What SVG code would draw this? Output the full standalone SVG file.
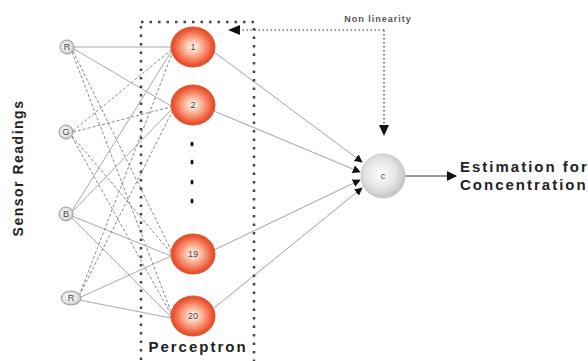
<svg xmlns="http://www.w3.org/2000/svg" width="588" height="361" viewBox="0 0 588 361">
<defs>
<radialGradient id="red" cx="50%" cy="50%" r="55%">
<stop offset="0" stop-color="#ffffff"/>
<stop offset="0.35" stop-color="#fbb89c"/>
<stop offset="0.8" stop-color="#ee5533"/>
<stop offset="1" stop-color="#d8401e"/>
</radialGradient>
<radialGradient id="gray" cx="45%" cy="45%" r="60%">
<stop offset="0" stop-color="#ffffff"/>
<stop offset="0.6" stop-color="#e2e2e2"/>
<stop offset="1" stop-color="#bdbdbd"/>
</radialGradient>
<marker id="ah" viewBox="0 0 10 10" refX="9" refY="5" markerWidth="8" markerHeight="8" markerUnits="userSpaceOnUse" orient="auto">
<path d="M0,0 L10,5 L0,10 z" fill="#111"/>
</marker>
<marker id="ahb" viewBox="0 0 10 10" refX="9" refY="5" markerWidth="10" markerHeight="10" markerUnits="userSpaceOnUse" orient="auto">
<path d="M0,0 L10,5 L0,10 z" fill="#111"/>
</marker>
</defs>
<style>
.in{fill:url(#gray);stroke:#9a9a9a;stroke-width:1}
.pn{fill:url(#red);stroke:#d9532f;stroke-width:1}
.s{stroke:#a8a8a8;stroke-width:1;fill:none}
.d{stroke:#888;stroke-width:1;fill:none;stroke-dasharray:3,2}
.o{stroke:#a0a0a0;stroke-width:1;fill:none}
.lbl{font-family:"Liberation Sans",Arial,sans-serif;font-size:9px;fill:#444;text-anchor:middle}
.b{font-family:"Liberation Sans",Arial,sans-serif;font-weight:bold;fill:#222}
.dot{stroke:#444;stroke-width:2.5;fill:none;stroke-dasharray:2.5,6}
.nl{stroke:#333;stroke-width:1.2;fill:none;stroke-dasharray:1.5,2.5}
</style>
<rect width="588" height="361" fill="#fff"/>
<g id="connectors">
<line class="s" x1="74" y1="47" x2="171" y2="47"/>
<line class="s" x1="74" y1="49" x2="171" y2="106"/>
<line class="d" x1="73" y1="51" x2="172" y2="252"/>
<line class="d" x1="72" y1="52" x2="172" y2="314"/>
<line class="d" x1="73" y1="131" x2="171" y2="50"/>
<line class="d" x1="73" y1="132" x2="171" y2="107"/>
<line class="d" x1="72" y1="136" x2="172" y2="254"/>
<line class="d" x1="72" y1="137" x2="172" y2="316"/>
<line class="s" x1="72" y1="211" x2="171" y2="52"/>
<line class="s" x1="72" y1="212" x2="171" y2="110"/>
<line class="s" x1="72" y1="216" x2="171" y2="256"/>
<line class="s" x1="72" y1="218" x2="172" y2="318"/>
<line class="d" x1="79" y1="296" x2="172" y2="54"/>
<line class="d" x1="79" y1="296" x2="172" y2="112"/>
<line class="s" x1="79" y1="298" x2="171" y2="256"/>
<line class="s" x1="79" y1="300" x2="171" y2="318"/>
<line class="o" x1="214" y1="52" x2="362" y2="162" marker-end="url(#ah)"/>
<line class="o" x1="214" y1="111" x2="360" y2="172" marker-end="url(#ah)"/>
<line class="o" x1="214" y1="250" x2="360" y2="180" marker-end="url(#ah)"/>
<line class="o" x1="214" y1="308" x2="362" y2="188" marker-end="url(#ah)"/>
<line x1="405" y1="176" x2="456" y2="176" stroke="#333" stroke-width="1" marker-end="url(#ahb)"/>
<path class="nl" d="M384,30 L232,30"/>
<path d="M228,30 L240,25 L240,35 z" fill="#111"/>
<path class="nl" d="M384,30 L384,128"/>
<path d="M384,136 L379,125 L389,125 z" fill="#111"/>
</g>
<g id="perceptron-box">
<rect x="141" y="22" width="113" height="345" fill="none" class="dot"/>
</g>
<g id="input-R1"><ellipse class="in" cx="67" cy="47" rx="7" ry="7"/><text class="lbl" x="67" y="50">R</text></g>
<g id="input-G"><ellipse class="in" cx="66" cy="132" rx="7" ry="7"/><text class="lbl" x="66" y="135">G</text></g>
<g id="input-B"><ellipse class="in" cx="66" cy="214" rx="7" ry="7"/><text class="lbl" x="66" y="217">B</text></g>
<g id="input-R2"><ellipse class="in" cx="71" cy="298" rx="10" ry="7"/><text class="lbl" x="71" y="301">R</text></g>
<g id="p1"><ellipse class="pn" cx="193" cy="47" rx="22" ry="20"/><text class="lbl" x="193" y="50">1</text></g>
<g id="p2"><ellipse class="pn" cx="193" cy="105" rx="22" ry="20"/><text class="lbl" x="193" y="108">2</text></g>
<g id="p19"><ellipse class="pn" cx="193" cy="254" rx="22" ry="20"/><text class="lbl" x="193" y="257">19</text></g>
<g id="p20"><ellipse class="pn" cx="193" cy="316" rx="22" ry="20"/><text class="lbl" x="193" y="319">20</text></g>
<g id="ellipsis">
<ellipse cx="192" cy="144" rx="1.5" ry="2.5" fill="#111"/>
<ellipse cx="192" cy="162" rx="1.5" ry="2.5" fill="#111"/>
<ellipse cx="192" cy="182" rx="1.5" ry="2.5" fill="#111"/>
<ellipse cx="192" cy="201" rx="1.5" ry="2.5" fill="#111"/>
</g>
<g id="c"><circle cx="383" cy="176" r="22" fill="url(#gray)" stroke="#c8c8c8"/><text class="lbl" x="383" y="179">c</text></g>
<g id="labels">
<text class="lbl" x="378" y="22" style="font-size:9px;letter-spacing:1px;font-weight:bold;fill:#555">Non linearity</text>
<text class="b" x="198" y="352" font-size="15" letter-spacing="2" text-anchor="middle">Perceptron</text>
<text class="b" x="460" y="172" font-size="15" letter-spacing="2">Estimation for</text>
<text class="b" x="460" y="190" font-size="15" letter-spacing="2">Concentration</text>
<text class="b" transform="translate(23,168) rotate(-90)" font-size="14" letter-spacing="1.5" text-anchor="middle">Sensor Readings</text>
</g>
</svg>
